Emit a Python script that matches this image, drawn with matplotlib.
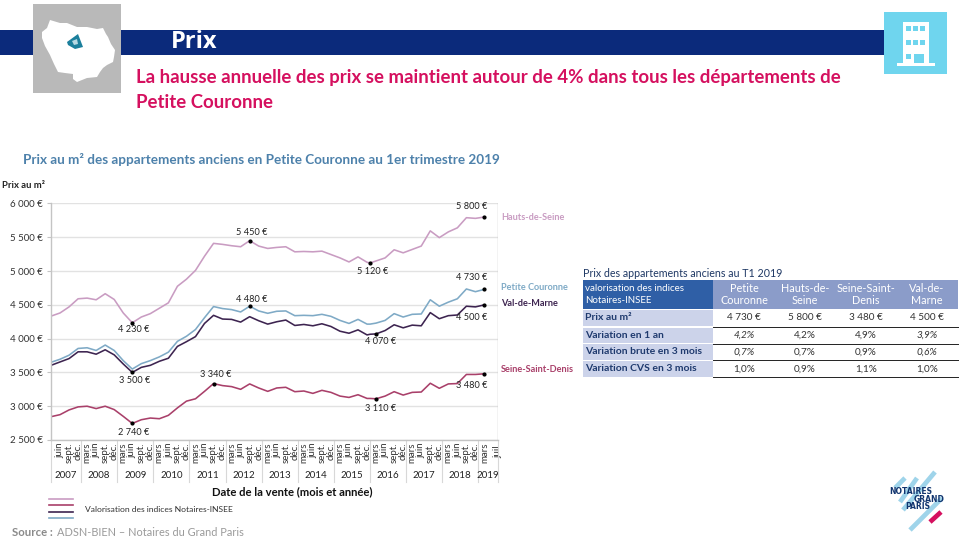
import matplotlib
matplotlib.use("Agg")
import matplotlib.pyplot as plt
from matplotlib.patches import Rectangle, Polygon
from matplotlib.transforms import blended_transform_factory

plt.rcParams['font.family'] = ['Lato', 'DejaVu Sans']

months = [0,3,6,9,12,15,18,21,24,27,30,33,36,39,42,45,48,51,54,57,60,63,66,69,72,75,78,81,84,87,90,93,96,99,102,105,106,108,111,114,117,120,123,126,129,132,135,138,141,144]
hauts_de_seine = [4333,4380,4470,4590,4600,4575,4665,4580,4380,4235,4320,4370,4450,4530,4775,4880,5010,5220,5410,5395,5375,5360,5450,5370,5335,5350,5360,5285,5290,5285,5295,5245,5195,5135,5210,5130,5120,5150,5195,5315,5270,5320,5370,5595,5495,5580,5640,5790,5780,5800]
petite_couronne = [3650,3695,3755,3855,3865,3825,3905,3825,3675,3550,3630,3675,3730,3800,3960,4035,4135,4310,4475,4445,4430,4395,4480,4410,4375,4405,4410,4340,4345,4340,4360,4330,4270,4225,4285,4215,4215,4230,4270,4370,4320,4360,4365,4575,4480,4540,4590,4735,4695,4730]
val_de_marne = [3605,3655,3705,3805,3805,3770,3835,3760,3625,3500,3575,3605,3665,3710,3885,3955,4030,4225,4345,4290,4285,4245,4325,4265,4215,4250,4275,4195,4210,4190,4220,4180,4110,4080,4130,4055,4065,4070,4120,4205,4160,4200,4190,4385,4295,4340,4350,4480,4470,4500]
seine_saint_denis = [2845,2875,2945,2990,3000,2965,3000,2950,2850,2745,2800,2825,2815,2865,2975,3075,3110,3220,3335,3305,3290,3250,3330,3270,3220,3270,3280,3215,3225,3190,3235,3205,3150,3130,3170,3115,3115,3110,3150,3215,3165,3205,3210,3340,3265,3330,3335,3470,3470,3480]

series_names = ['Hauts-de-Seine', 'Seine-Saint-Denis', 'Val-de-Marne', 'Petite Couronne']
series_values = [hauts_de_seine, seine_saint_denis, val_de_marne, petite_couronne]
series_colors = ['#c99cc2', '#a9406a', '#3d2450', '#7faac6']

y_ticks = [2500,3000,3500,4000,4500,5000,5500,6000]
y_tick_labels = ['2 500 €','3 000 €','3 500 €','4 000 €','4 500 €','5 000 €','5 500 €','6 000 €']
tick_months = list(range(3, 145, 3)) + [148.3]
month_names = ['juin','sept.','déc.','mars']
tick_labels = [month_names[i % 4] for i in range(48)] + ['juil.']
years = ['2007','2008','2009','2010','2011','2012','2013','2014','2015','2016','2017','2018','2019']
year_edges = [10,22,34,46,58,70,82,94,106,118,130,142,148.5]

# series index, month, label, x offset px, y offset px
callouts = [
    (0,27,'4 230 €',1,-7),(0,66,'5 450 €',2,8),(0,106,'5 120 €',3,-9),(0,144,'5 800 €',-13,11),
    (3,66,'4 480 €',2,7),(3,144,'4 730 €',-13,12),
    (2,27,'3 500 €',2,-8),(2,108,'4 070 €',4,-8),(2,144,'4 500 €',-13,-13),
    (1,27,'2 740 €',1,-9),(1,54,'3 340 €',2,9),(1,108,'3 110 €',4,-10),(1,144,'3 480 €',-13,-12),
]

table_title = 'Prix des appartements anciens au T1 2019'
table_head = ['valorisation des indices\nNotaires-INSEE']
table_cols = ['Petite\nCouronne','Hauts-de-\nSeine','Seine-Saint-\nDenis','Val-de-\nMarne']
table_rows = ['Prix au m²','Variation en 1 an','Variation brute en 3 mois','Variation CVS en 3 mois']
table_vals = [['4 730 €','5 800 €','3 480 €','4 500 €'],
              ['4,2%','4,2%','4,9%','3,9%'],
              ['0,7%','0,7%','0,9%','0,6%'],
              ['1,0%','0,9%','1,1%','1,0%']]

W, H = 960, 540
fig = plt.figure(figsize=(9.6, 5.4), dpi=100, facecolor='white')
bg = fig.add_axes([0, 0, 1, 1], zorder=0)
bg.set_xlim(0, W); bg.set_ylim(H, 0); bg.axis('off')

# banner and header
bg.add_patch(Rectangle((0, 30), 885, 25, color='#0b2a7b', lw=0))
bg.add_patch(Rectangle((33, 4), 88, 89, color='#b9b9b9', lw=0))
bg.add_patch(Polygon([(50,20),(60,23),(67,23),(77,27),(87,27),(97,29),(103,28),(106,34),(108,37),(111,44),(115,50),(114,57),(113,62),(107,65),(103,68),(100,72),(97,77),(87,78),(77,82),(73,79),(73,74),(65,73),(58,72),(54,64),(50,55),(45,46),(42,38),(42,32),(47,28)], color='white', lw=0))
bg.add_patch(Polygon([(67,42),(78,34),(83,47),(75,49),(68,45)], color='#1b7f9c', lw=0))
bg.add_patch(Polygon([(72,41),(77,39),(78,44),(74,45)], color='#b6d8e2', lw=0))
bg.text(171, 42.5, 'Prix', color='white', fontsize=17, fontweight='bold', va='center', ha='left', family=['Open Sans','DejaVu Sans'])
bg.text(136, 78, 'La hausse annuelle des prix se maintient autour de 4% dans tous les départements de',
        color='#d5105f', fontsize=13.4, fontweight='bold', va='center')
bg.text(136, 102, 'Petite Couronne', color='#d5105f', fontsize=13.4, fontweight='bold', va='center')

# building icon
bg.add_patch(Rectangle((884, 12), 63, 62, color='#6fd5ee', lw=0))
bg.add_patch(Rectangle((903, 22), 26, 41, color='white', lw=0))
bg.add_patch(Rectangle((897, 63), 38, 3, color='white', lw=0))
for wy in (26, 40):
    for wx in (906, 913, 920):
        bg.add_patch(Rectangle((wx, wy), 5, 5, color='#6fd5ee', lw=0))
bg.add_patch(Rectangle((906, 54), 5, 5, color='#6fd5ee', lw=0))
bg.add_patch(Rectangle((914, 54), 10, 9, color='#6fd5ee', lw=0))

# chart title
bg.text(23, 160, 'Prix au m² des appartements anciens en Petite Couronne au 1er trimestre 2019',
        color='#4d81ab', fontsize=9.7, fontweight='bold', va='center')
bg.text(2, 186, 'Prix au m²', color='#222222', fontsize=6.8, fontweight='bold', va='center')

# chart
ax = fig.add_axes([51/W, 1-440/H, (498-51)/W, (440-203.5)/H], zorder=2)
ax.patch.set_alpha(0)
ax.set_xlim(0, 148.5); ax.set_ylim(2500, 6000)
for s in ('top', 'right'):
    ax.spines[s].set_visible(False)
for s in ('left', 'bottom'):
    ax.spines[s].set_color('#c4c4c4'); ax.spines[s].set_linewidth(1)
ax.set_yticks(y_ticks, y_tick_labels, fontsize=7.0, color='#333333')
ax.set_xticks(tick_months, tick_labels, rotation=90, fontsize=7.0, color='#333333')
ax.tick_params(axis='y', length=3, color='#c4c4c4', pad=3)
ax.tick_params(axis='x', length=0, pad=2)
ax.grid(axis='y', color='#e2e2e2', lw=1)
ax.set_axisbelow(True)
for vals, col in zip(series_values, series_colors):
    ax.plot(months, vals, color=col, lw=1.15, solid_joinstyle='round')
ax.axvline(148.5, color='#c4c4c4', lw=1)
for idx, m, lab, dx, dy in callouts:
    v = series_values[idx][months.index(m)]
    ax.plot([m], [v], 'o', color='black', ms=2.0, zorder=5)
    ax.annotate(lab, (m, v), xytext=(dx, dy), textcoords='offset pixels', ha='center', va='center',
                fontsize=6.6, color='#222222', zorder=6)

trans = blended_transform_factory(ax.transData, bg.transData)
prev = 0
for y, e in zip(years, year_edges):
    ax.text((prev + e) / 2, 475, y, transform=trans, ha='center', va='center', fontsize=7.0, color='#222222', clip_on=False)
    ax.plot([e, e], [440, 482], transform=trans, color='#d8d8d8', lw=0.8, clip_on=False)
    prev = e
ax.plot([0, 0], [440, 482], transform=trans, color='#d8d8d8', lw=0.8, clip_on=False)
ax.set_xlim(0, 148.5); ax.set_ylim(2500, 6000)

bg.text(292, 492, 'Date de la vente (mois et année)', ha='center', va='center', fontsize=8.1, fontweight='bold', color='#111111')

# direct labels
for name, col, y in zip(series_names, series_colors, (217, 369, 304, 288)):
    bg.text(501, y, name, color=col, fontsize=6.6, fontweight='bold', va='center')

# legend
for col, y in zip(series_colors, (499, 504.5, 511.5, 518)):
    bg.plot([49, 73], [y, y], color=col, lw=1.2)
bg.text(85, 510, 'Valorisation des indices Notaires-INSEE', fontsize=6.1, color='#333333', va='center')

# source
bg.text(12, 532, 'Source :', fontsize=8.2, fontweight='bold', color='#8a8a8a', va='center')
bg.text(57, 532, 'ADSN-BIEN – Notaires du Grand Paris', fontsize=7.9, color='#9a9a9a', va='center')

# table
bg.text(583, 273.5, table_title, fontsize=7.7, color='#1f3864', va='center')
bg.add_patch(Rectangle((583, 280), 130, 29, color='#2f5fa6', lw=0))
bg.add_patch(Rectangle((713, 280), 245, 29, color='#8b9cc9', lw=0))
bg.text(585, 294.5, table_head[0], fontsize=7.0, color='white', va='center', linespacing=1.5)
col_x = [744, 805, 866, 927]
for x, c in zip(col_x, table_cols):
    bg.text(x, 294.5, c, fontsize=7.8, color='white', ha='center', va='center', linespacing=1.2)
row_y = [(310, 326), (327.5, 343), (344, 359.5), (361, 376.5)]
for i, ((y0, y1), lab) in enumerate(zip(row_y, table_rows)):
    bg.add_patch(Rectangle((583, y0), 130, y1 - y0, color='#ccd3ea', lw=0))
    bg.text(585, (y0 + y1) / 2, lab, fontsize=7.5, fontweight='bold', color='#1f3a6e', va='center')
    for j, (x, v) in enumerate(zip(col_x, table_vals[i])):
        italic = i in (1, 2) and j in (0, 3)
        bg.text(x, (y0 + y1) / 2, v, fontsize=7.2, color='#333333', ha='center', va='center',
                style='italic' if italic else 'normal')
    bg.plot([713, 958], [y1 + 0.5, y1 + 0.5], color='#222222', lw=0.7)

# logo
for (x0, y0, x1, y1) in [(895,488,905,478),(900,502,917,478),(903,510,935,472),(910,530,942,498)]:
    bg.plot([x0, x1], [y0, y1], color='#9fd4ea', lw=3.4, solid_capstyle='butt')
bg.plot([930, 941], [522, 512], color='#d5105f', lw=3.4, solid_capstyle='butt')
logo_font = ['DejaVu Sans']
bg.text(889, 491.5, 'NOTAIRES', fontsize=5.5, fontweight='bold', color='#12356f', va='center', family=logo_font)
bg.text(945, 499, 'GRAND', fontsize=5.5, fontweight='bold', color='#12356f', va='center', ha='right', family=logo_font)
bg.text(905, 506.5, 'PARIS', fontsize=5.5, fontweight='bold', color='#12356f', va='center', family=logo_font)

bg.set_xlim(0, W); bg.set_ylim(H, 0)
fig.savefig('out.png', dpi=100)
